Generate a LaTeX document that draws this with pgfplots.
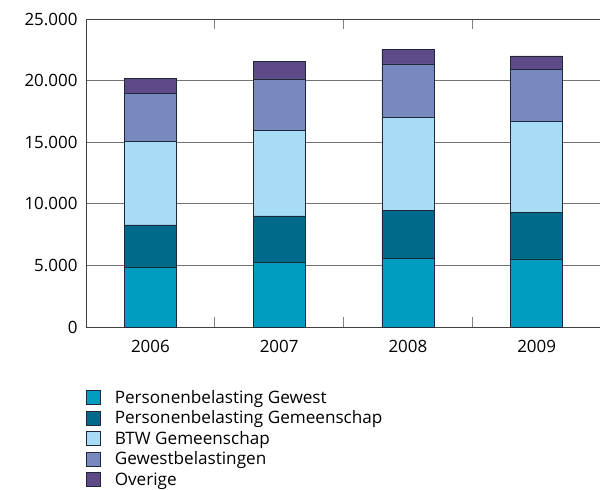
\documentclass[border=0pt]{standalone}
\usepackage{pgfplots}
\pgfplotsset{compat=1.18}
\usepackage{fontspec}
\setmainfont{Open Sans}

\definecolor{pbgew}{RGB}{0,157,192}
\definecolor{pbgem}{RGB}{0,106,140}
\definecolor{btw}{RGB}{168,219,245}
\definecolor{gewbel}{RGB}{120,137,191}
\definecolor{overig}{RGB}{94,74,134}
\definecolor{edge}{RGB}{30,40,55}

\begin{document}
\begin{tikzpicture}
\begin{axis}[
  scale only axis,
  width=515bp, height=308bp,
  ybar stacked, bar width=52bp, bar shift=0pt,
  xmin=-0.5, xmax=3.5,
  ymin=0, ymax=25000,
  axis x line*=box, axis y line*=left,
  axis line style={black!75, line width=0.8pt},
  xtick={0,1,2,3},
  xticklabels={2006,2007,2008,2009},
  major x tick style={draw=none},
  minor xtick={0.5,1.5,2.5},
  minor tick length=10bp,
  minor x tick style={black!50, line width=0.8pt},
  tick align=inside,
  ytick={0,5000,10000,15000,20000,25000},
  major y tick style={draw=none},
  ymajorgrids,
  grid style={black!55, line width=0.8pt},
  scaled y ticks=false,
  /pgf/number format/.cd, 1000 sep={.}, assume math mode=true,
  /pgfplots/.cd,
  ticklabel style={font=\fontsize{17}{20}\selectfont},
  yticklabel style={xshift=-5bp},
  xticklabel style={yshift=-10bp},
  legend style={at={(axis description cs:0,-0.198)}, anchor=north west,
    draw=none, inner sep=0pt, font=\fontsize{17.2}{20}\selectfont,
    row sep=2.1bp, column sep=0pt, cells={anchor=west}},
  legend cell align=left,
  legend image code/.code={\draw[#1,draw=edge,line width=0.6pt] (0bp,-7bp) rectangle (14bp,7bp);},
  every axis plot/.append style={draw=edge, line width=0.7pt},
]
\addplot[fill=pbgew] coordinates {(0,4870) (1,5220) (2,5570) (3,5520)};
\addplot[fill=pbgem] coordinates {(0,3410) (1,3790) (2,3900) (3,3810)};
\addplot[fill=btw] coordinates {(0,6760) (1,6980) (2,7550) (3,7340)};
\addplot[fill=gewbel] coordinates {(0,3930) (1,4140) (2,4330) (3,4220)};
\addplot[fill=overig] coordinates {(0,1180) (1,1440) (2,1160) (3,1110)};
\legend{\hspace{12bp}Personenbelasting Gewest,\hspace{12bp}Personenbelasting Gemeenschap,\hspace{12bp}BTW Gemeenschap,\hspace{12bp}Gewestbelastingen,\hspace{12bp}Overige}
\coordinate (o) at (rel axis cs:0,0);
\end{axis}
\pgfresetboundingbox
\path[use as bounding box] ([shift={(-86bp,-163bp)}]o) rectangle ([shift={(514bp,327bp)}]o);
\end{tikzpicture}
\end{document}
